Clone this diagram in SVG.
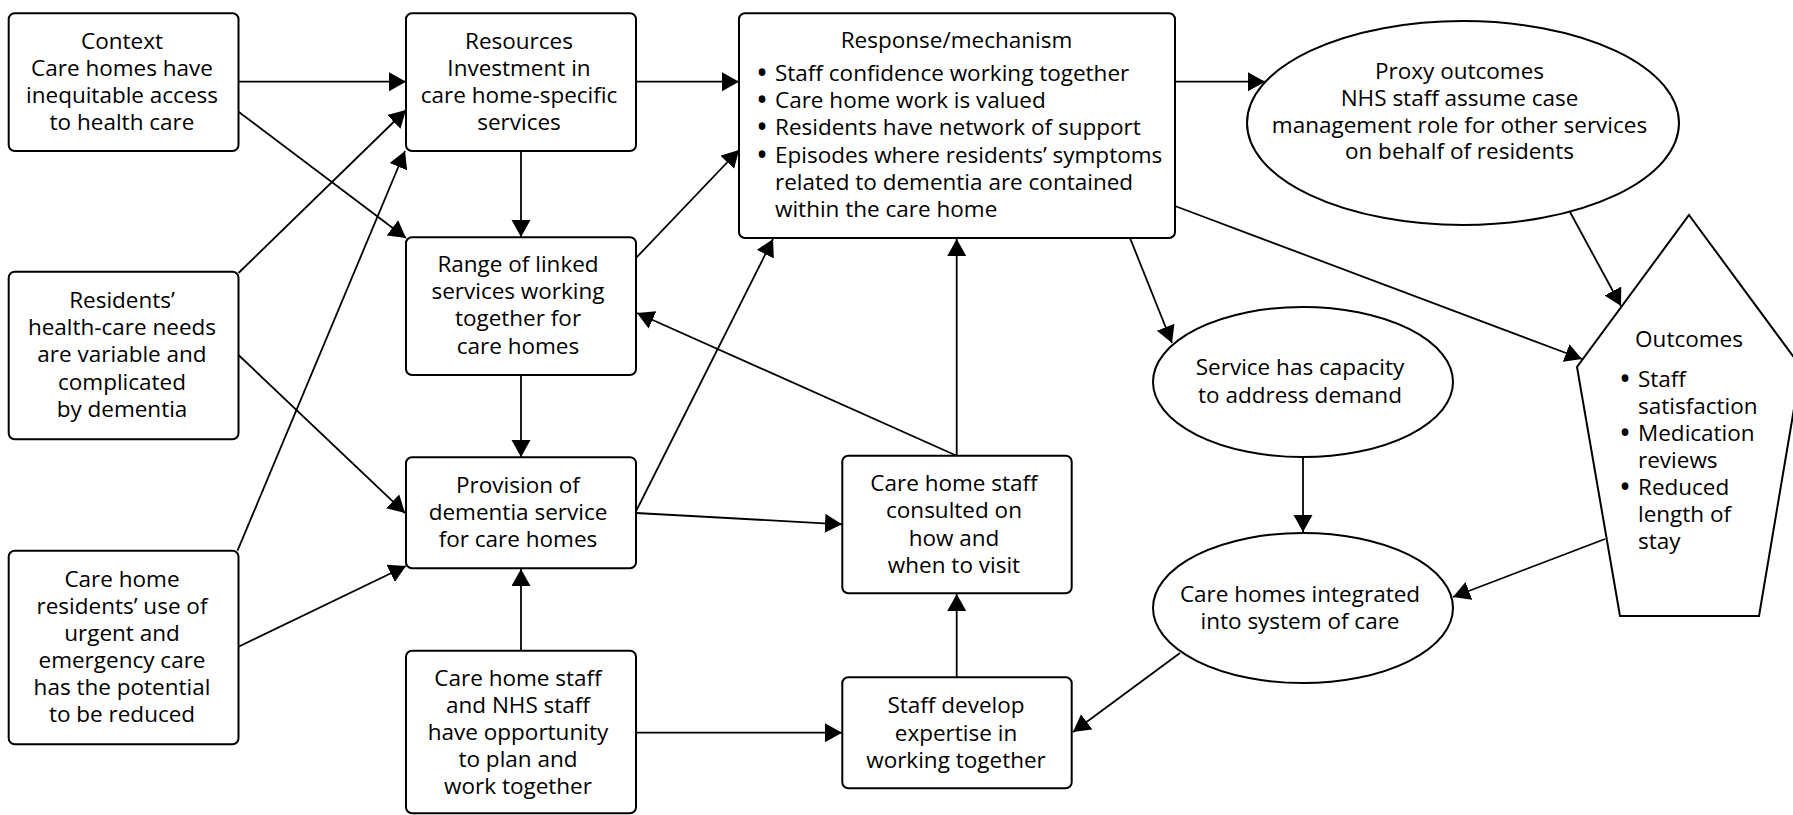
<svg xmlns="http://www.w3.org/2000/svg" width="1793" height="815" viewBox="0 0 1793 815">
<style>
.box{fill:#fff;stroke:#000;stroke-width:2}
.shape{fill:#fff;stroke:#000;stroke-width:2}
.t{font-family:"Open Sans","Noto Sans",sans-serif;font-size:22.5px;fill:#000;text-anchor:middle}
.l{text-anchor:start}
.b{font-size:32px}
.c line{stroke:#000;stroke-width:1.8;marker-end:url(#ah)}
</style>
<defs>
<marker id="ah" markerUnits="userSpaceOnUse" markerWidth="18" markerHeight="20" refX="17" refY="9.5" orient="auto">
<path d="M0,0 L17,9.5 L0,19 z" fill="#000"/>
</marker>
</defs>
<rect width="1793" height="815" fill="#fff"/>
<g id="connectors" class="c">
<line x1="238.5" y1="81.7" x2="406" y2="81.7"/>
<line x1="636" y1="81.7" x2="739" y2="81.7"/>
<line x1="1175" y1="81.7" x2="1265" y2="81.7"/>
<line x1="238.5" y1="111.7" x2="406" y2="238"/>
<line x1="238.5" y1="273" x2="406" y2="110"/>
<line x1="237.5" y1="550.7" x2="405" y2="151"/>
<line x1="521" y1="151" x2="521" y2="237"/>
<line x1="636" y1="258" x2="739" y2="150"/>
<line x1="238.5" y1="355" x2="405" y2="513"/>
<line x1="238.5" y1="646.7" x2="406" y2="566"/>
<line x1="521" y1="375" x2="521" y2="457"/>
<line x1="521" y1="651" x2="521" y2="569"/>
<line x1="636" y1="513" x2="842" y2="524.3"/>
<line x1="636.7" y1="510" x2="773" y2="239"/>
<line x1="956.7" y1="455.7" x2="637" y2="313"/>
<line x1="956.7" y1="455.7" x2="956.7" y2="239"/>
<line x1="956.7" y1="677" x2="956.7" y2="594"/>
<line x1="636" y1="732.7" x2="842" y2="732.7"/>
<line x1="1130" y1="238" x2="1172" y2="343"/>
<line x1="1175" y1="206" x2="1582" y2="359"/>
<line x1="1570" y1="212" x2="1621" y2="306"/>
<line x1="1303" y1="457" x2="1303" y2="532"/>
<line x1="1605" y1="539" x2="1453" y2="597"/>
<line x1="1180" y1="653" x2="1073" y2="732"/>
</g>
<g id="context">
<rect class="box" x="8.7" y="13.3" width="229.8" height="137.7" rx="6"/>
<text class="t"><tspan x="122" y="48.5">Context</tspan><tspan x="122" y="75.8">Care homes have</tspan><tspan x="122" y="103">inequitable access</tspan><tspan x="122" y="130.3">to health care</tspan></text>
</g>
<g id="resources">
<rect class="box" x="406" y="13.3" width="230" height="137.7" rx="6"/>
<text class="t"><tspan x="519" y="48.5">Resources</tspan><tspan x="519" y="75.8">Investment in</tspan><tspan x="519" y="103">care home-specific</tspan><tspan x="519" y="130.3">services</tspan></text>
</g>
<g id="response">
<rect class="box" x="739" y="13.3" width="436" height="224.7" rx="6"/>
<text class="t" x="956.5" y="48">Response/mechanism</text>
<text class="t b" x="762" y="84">•</text><text class="t l" x="775" y="81">Staff confidence working together</text>
<text class="t b" x="762" y="111.2">•</text><text class="t l" x="775" y="108.2">Care home work is valued</text>
<text class="t b" x="762" y="138.4">•</text><text class="t l" x="775" y="135.4">Residents have network of support</text>
<text class="t b" x="762" y="165.6">•</text><text class="t l" x="775" y="162.6">Episodes where residents’ symptoms</text>
<text class="t l" x="775" y="189.8">related to dementia are contained</text>
<text class="t l" x="775" y="217">within the care home</text>
</g>
<g id="proxy">
<ellipse class="shape" cx="1463" cy="123" rx="216" ry="102"/>
<text class="t"><tspan x="1459.5" y="79">Proxy outcomes</tspan><tspan x="1459.5" y="105.8">NHS staff assume case</tspan><tspan x="1459.5" y="132.6">management role for other services</tspan><tspan x="1459.5" y="159.4">on behalf of residents</tspan></text>
</g>
<g id="range">
<rect class="box" x="406" y="237.3" width="230" height="137.7" rx="6"/>
<text class="t"><tspan x="518" y="272">Range of linked</tspan><tspan x="518" y="299.2">services working</tspan><tspan x="518" y="326.4">together for</tspan><tspan x="518" y="353.6">care homes</tspan></text>
</g>
<g id="residents">
<rect class="box" x="8.7" y="271.7" width="229.8" height="167.6" rx="6"/>
<text class="t"><tspan x="122" y="308">Residents’</tspan><tspan x="122" y="335.2">health-care needs</tspan><tspan x="122" y="362.4">are variable and</tspan><tspan x="122" y="389.6">complicated</tspan><tspan x="122" y="416.8">by dementia</tspan></text>
</g>
<g id="care-home-residents">
<rect class="box" x="8.7" y="550.7" width="229.8" height="193.6" rx="6"/>
<text class="t"><tspan x="122" y="586.7">Care home</tspan><tspan x="122" y="613.7">residents’ use of</tspan><tspan x="122" y="640.7">urgent and</tspan><tspan x="122" y="667.7">emergency care</tspan><tspan x="122" y="694.7">has the potential</tspan><tspan x="122" y="721.7">to be reduced</tspan></text>
</g>
<g id="provision">
<rect class="box" x="406" y="457.3" width="230" height="111" rx="6"/>
<text class="t"><tspan x="518" y="492.7">Provision of</tspan><tspan x="518" y="519.7">dementia service</tspan><tspan x="518" y="546.7">for care homes</tspan></text>
</g>
<g id="plan-together">
<rect class="box" x="406" y="650.7" width="230" height="162.6" rx="6"/>
<text class="t"><tspan x="518" y="685.7">Care home staff</tspan><tspan x="518" y="712.8">and NHS staff</tspan><tspan x="518" y="739.9">have opportunity</tspan><tspan x="518" y="767">to plan and</tspan><tspan x="518" y="794.1">work together</tspan></text>
</g>
<g id="consulted">
<rect class="box" x="842.3" y="455.7" width="229.4" height="137.6" rx="6"/>
<text class="t"><tspan x="954" y="490.7">Care home staff</tspan><tspan x="954" y="518.2">consulted on</tspan><tspan x="954" y="545.7">how and</tspan><tspan x="954" y="573.2">when to visit</tspan></text>
</g>
<g id="develop">
<rect class="box" x="842.3" y="677.3" width="229.4" height="111" rx="6"/>
<text class="t"><tspan x="956" y="713.3">Staff develop</tspan><tspan x="956" y="740.5">expertise in</tspan><tspan x="956" y="767.7">working together</tspan></text>
</g>
<g id="capacity">
<ellipse class="shape" cx="1303" cy="382" rx="150" ry="75"/>
<text class="t"><tspan x="1300" y="375">Service has capacity</tspan><tspan x="1300" y="402.7">to address demand</tspan></text>
</g>
<g id="integrated">
<ellipse class="shape" cx="1303" cy="608" rx="150" ry="75"/>
<text class="t"><tspan x="1300" y="601.7">Care homes integrated</tspan><tspan x="1300" y="629.3">into system of care</tspan></text>
</g>
<g id="outcomes">
<polygon class="shape" points="1689,215 1801,367 1759,616 1620,616 1577,367"/>
<text class="t" x="1689" y="347">Outcomes</text>
<text class="t b" x="1625" y="389.7">•</text><text class="t l" x="1638" y="386.7">Staff</text>
<text class="t l" x="1638" y="413.5">satisfaction</text>
<text class="t b" x="1625" y="443.5">•</text><text class="t l" x="1638" y="440.5">Medication</text>
<text class="t l" x="1638" y="467.5">reviews</text>
<text class="t b" x="1625" y="497.8">•</text><text class="t l" x="1638" y="494.8">Reduced</text>
<text class="t l" x="1638" y="522">length of</text>
<text class="t l" x="1638" y="549">stay</text>
</g>
</svg>
